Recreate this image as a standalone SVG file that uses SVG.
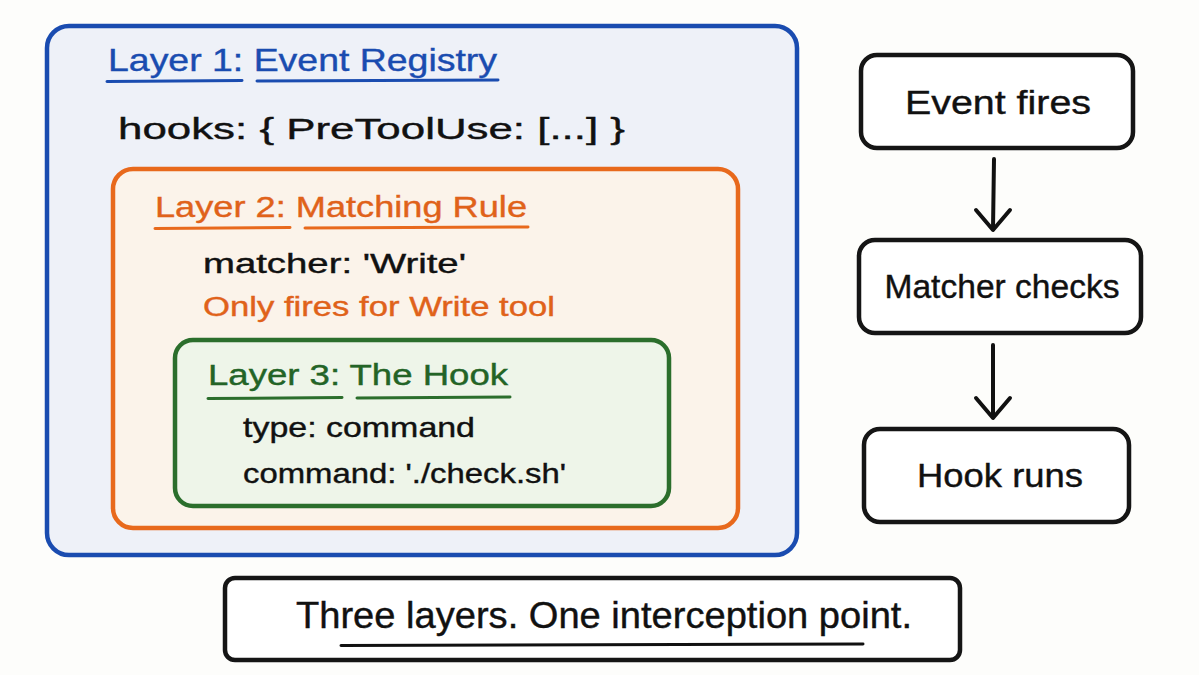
<svg xmlns="http://www.w3.org/2000/svg" width="1199" height="675" viewBox="0 0 1199 675">
<style>
text{font-family:"Liberation Sans","DejaVu Sans",sans-serif;}
.box{stroke-width:4.5;stroke-linejoin:round;}
.blue{stroke:#1a4cb0;fill:#eef1f8;}
.orange{stroke:#e8691c;fill:#fbf3ea;}
.green{stroke:#2b6e2c;fill:#eef5e9;}
.black{stroke:#151515;fill:#ffffff;}
.tb{fill:#1a4cb0;stroke:#1a4cb0;} .to{fill:#e0621a;stroke:#e0621a;} .tg{fill:#236426;stroke:#236426;} .tk{fill:#111;stroke:#111;}
text{stroke-width:0.4;}
.ul{stroke-width:3;stroke-linecap:round;fill:none;}
.conn{stroke:#111;stroke-width:4;stroke-linecap:round;stroke-linejoin:round;fill:none;}
</style>
<rect width="1199" height="675" fill="#fdfdfb"/>

<g id="layer1">
<rect class="box blue" x="47" y="26" width="750" height="529" rx="22"/>
<text class="tb" x="108" y="71" font-size="32" textLength="389" lengthAdjust="spacingAndGlyphs">Layer 1: Event Registry</text>
<path class="ul" stroke="#1a4cb0" d="M107 81.5 L242 80.5 M257 81 L498 80"/>
<text class="tk" x="118" y="139" font-size="30" textLength="507" lengthAdjust="spacingAndGlyphs">hooks: { PreToolUse: [...] }</text>
</g>

<g id="layer2">
<rect class="box orange" x="113" y="169" width="625" height="359" rx="20"/>
<text class="to" x="155" y="217" font-size="30" textLength="372" lengthAdjust="spacingAndGlyphs">Layer 2: Matching Rule</text>
<path class="ul" stroke="#e8691c" d="M155 228.5 L290 227.5 M305 228 L528 227"/>
<text class="tk" x="203" y="273" font-size="27" textLength="263" lengthAdjust="spacingAndGlyphs">matcher: 'Write'</text>
<text class="to" x="203" y="316" font-size="27" textLength="352" lengthAdjust="spacingAndGlyphs">Only fires for Write tool</text>
</g>

<g id="layer3">
<rect class="box green" x="175" y="340" width="494" height="166" rx="18"/>
<text class="tg" x="208" y="385" font-size="29" textLength="300" lengthAdjust="spacingAndGlyphs">Layer 3: The Hook</text>
<path class="ul" stroke="#2b6e2c" d="M208 398.5 L342 397.5 M357 398 L510 397"/>
<text class="tk" x="243" y="437" font-size="28" textLength="232" lengthAdjust="spacingAndGlyphs">type: command</text>
<text class="tk" x="243" y="483" font-size="28" textLength="323" lengthAdjust="spacingAndGlyphs">command: './check.sh'</text>
</g>

<g id="event-fires">
<rect class="box black" x="861" y="55" width="272" height="93" rx="16"/>
<text class="tk" x="998" y="114" font-size="33" text-anchor="middle" textLength="186" lengthAdjust="spacingAndGlyphs">Event fires</text>
</g>
<g id="matcher-checks">
<rect class="box black" x="859" y="240" width="282" height="93" rx="16"/>
<text class="tk" x="1002" y="298" font-size="33" text-anchor="middle" textLength="235" lengthAdjust="spacingAndGlyphs">Matcher checks</text>
</g>
<g id="hook-runs">
<rect class="box black" x="864" y="429" width="265" height="93" rx="16"/>
<text class="tk" x="1000" y="487" font-size="33" text-anchor="middle" textLength="166" lengthAdjust="spacingAndGlyphs">Hook runs</text>
</g>

<g id="summary">
<rect class="box black" x="225" y="578" width="735" height="82" rx="10"/>
<text class="tk" x="604" y="628" font-size="36" text-anchor="middle" textLength="616" lengthAdjust="spacingAndGlyphs">Three layers. One interception point.</text>
<path class="ul" stroke="#111" stroke-width="3.5" d="M341 645.5 L863 644"/>
</g>

<g id="connectors">
<path class="conn" d="M994 159 L993 229"/>
<path class="conn" d="M976 210 L993 230 L1010 210"/>
<path class="conn" d="M993 345 L993 417"/>
<path class="conn" d="M976 398 L993 418 L1010 398"/>
</g>
</svg>
